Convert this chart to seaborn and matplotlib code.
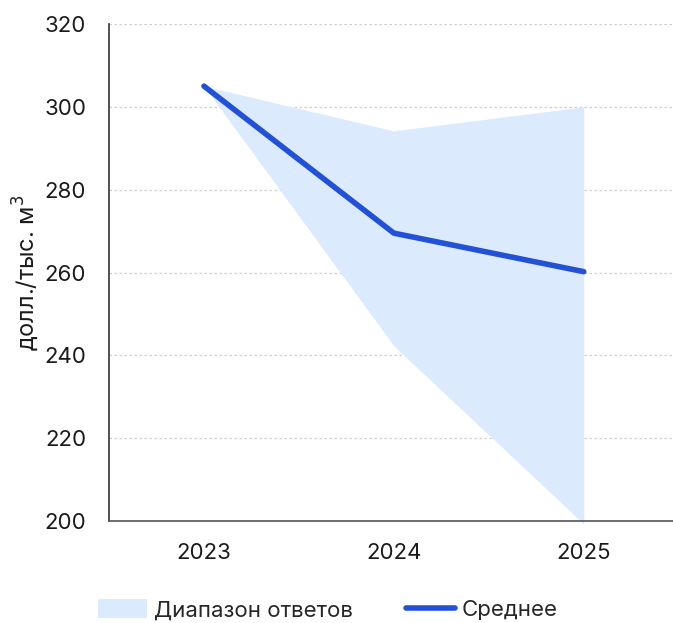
import matplotlib
matplotlib.use("Agg")
import matplotlib.pyplot as plt
import seaborn as sns
import pandas as pd
from matplotlib.patches import Patch
from matplotlib.lines import Line2D

years = ["2023", "2024", "2025"]
mean_vals = [305, 269.5, 260.2]
low_vals = [305, 242.3, 199.3]
high_vals = [305, 294.2, 300]
yticks = [200, 220, 240, 260, 280, 300, 320]

sns.set_theme(style="white")
plt.rcParams['font.family'] = ['Inter', 'DejaVu Sans']

line_color = "#2351d6"
fill_color = "#dceafd"

fig = plt.figure(figsize=(6.73, 6.23), dpi=100)
ax = fig.add_axes([0.162, 0.1637, 0.838, 0.7978])

x = list(range(len(years)))
df = pd.DataFrame({"x": x, "mean": mean_vals})
ax.fill_between(x, low_vals, high_vals, color=fill_color, linewidth=0, zorder=1, clip_on=False)
sns.lineplot(data=df, x="x", y="mean", ax=ax, color=line_color, linewidth=4.0,
             solid_capstyle="round", solid_joinstyle="round", zorder=3)

ax.set_xlim(-0.5, 2.47)
ax.set_ylim(200, 320)
ax.set_yticks(yticks)
ax.set_xticks(x)
ax.set_xticklabels(years)
ax.set_xlabel("")
ax.set_ylabel("долл./тыс. м$^3$", fontsize=17, color="#1a1a1a", labelpad=2)
ax.tick_params(axis="both", labelsize=16, colors="#1a1a1a", length=0)
ax.tick_params(axis="x", pad=16)
ax.tick_params(axis="y", pad=16.5)

for y in yticks:
    ax.axhline(y, color="#cfcfcf", linestyle=(0, (2, 2)), linewidth=0.9, zorder=0)

for s in ["top", "right"]:
    ax.spines[s].set_visible(False)
ax.spines["left"].set_color("#333333")
ax.spines["bottom"].set_color("#555555")
ax.spines["left"].set_linewidth(1.2)
ax.spines["bottom"].set_linewidth(1.2)
ax.spines["left"].set_zorder(4)
ax.spines["bottom"].set_zorder(4)

handles = [Patch(facecolor=fill_color, edgecolor="none"),
           Line2D([0], [0], color=line_color, linewidth=4.0, solid_capstyle="round")]
fig.legend(handles, ["Диапазон ответов", "Среднее"], loc="center",
           bbox_to_anchor=(0.487, 0.021), ncol=2, frameon=False, fontsize=16,
           handlelength=2.2, handletextpad=0.3, columnspacing=2.4, handleheight=0.9)

fig.savefig("out.png", dpi=100)
